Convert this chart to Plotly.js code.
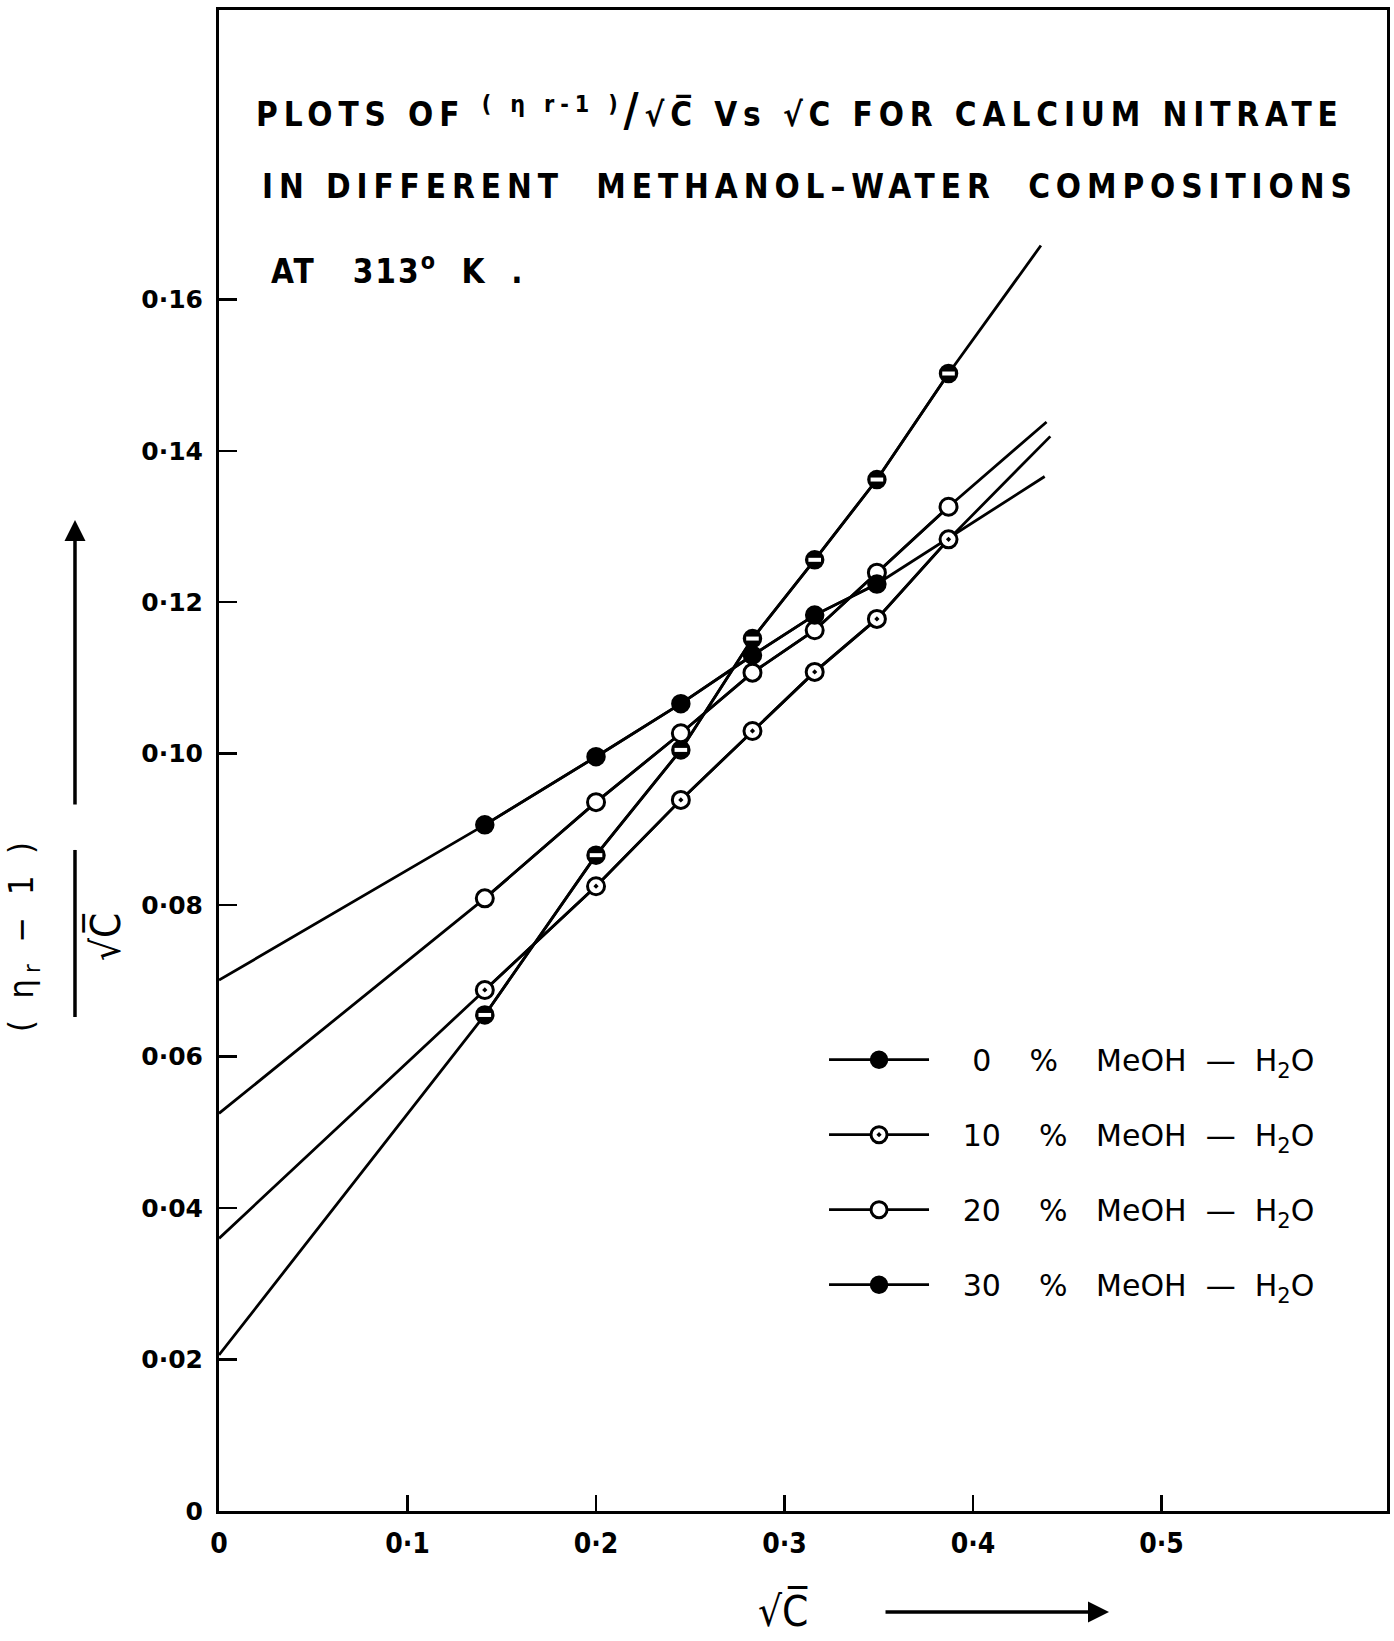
<!DOCTYPE html>
<html>
<head>
<meta charset="utf-8">
<script src="https://cdn.plot.ly/plotly-3.0.1.min.js"></script>
<style>html,body{margin:0;padding:0;background:#fff;}</style>
</head>
<body>
<div id="chart" style="width:1394px;height:1641px;"></div>
<script>
// ---- data ----
const sqrtC   = [0.141, 0.200, 0.245, 0.283, 0.316, 0.349, 0.387];
const meoh0   = [0.0655, 0.0866, 0.1005, 0.1152, 0.1256, 0.1362, 0.1502];
const meoh10  = [0.0688, 0.0825, 0.0939, 0.1030, 0.1108, 0.1178, 0.1283];
const meoh20  = [0.0809, 0.0936, 0.1027, 0.1107, 0.1163, 0.1239, 0.1326];
const meoh30  = [0.0906, 0.0996, 0.1066, 0.1130, 0.1183, 0.1224];
// extrapolated straight lines: value at sqrt(C)=0 and the far end of each drawn line
const lineStartY = [0.0206, 0.0360, 0.0525, 0.0701];
const lineEndX   = [0.436, 0.441, 0.439, 0.438];
const lineEndY   = [0.1671, 0.1419, 0.1438, 0.1366];
const NB = '\u00a0';
const seriesNames = ['0', '10', '20', '30'].map(p =>
  NB.repeat(p.length === 1 ? 4 : 3) + p + NB.repeat(4) + '%' + NB.repeat(p.length === 1 ? 4 : 3) +
  'MeOH' + NB.repeat(2) + '—' + NB.repeat(2) + 'H<sub>2</sub>O');
const xTickVals = [0, 0.1, 0.2, 0.3, 0.4, 0.5];
const xTickText = ['0', '0·1', '0·2', '0·3', '0·4', '0·5'];
const yTickVals = [0, 0.02, 0.04, 0.06, 0.08, 0.10, 0.12, 0.14, 0.16];
const yTickText = ['0', '0·02', '0·04', '0·06', '0·08', '0·10', '0·12', '0·14', '0·16'];

// ---- build traces ----
const seriesY = [meoh0, meoh10, meoh20, meoh30];
const markerStyles = [
  {symbol: 'circle', size: 17, color: 'black', line: {color: 'black', width: 2.5}},
  {symbol: 'circle-dot', size: 17, color: 'white', line: {color: 'black', width: 3}},
  {symbol: 'circle', size: 17, color: 'white', line: {color: 'black', width: 3}},
  {symbol: 'circle', size: 17, color: 'black', line: {color: 'black', width: 2.5}}
];
const LW = 2.8;
const lineTraces = [], markerTraces = [];
seriesY.forEach((ys, i) => {
  const xs = sqrtC.slice(0, ys.length);
  lineTraces.push({
    x: [0].concat(xs, [lineEndX[i]]),
    y: [lineStartY[i]].concat(ys, [lineEndY[i]]),
    mode: 'lines', line: {color: 'black', width: LW},
    showlegend: false, hoverinfo: 'skip'
  });
  markerTraces.push({
    x: xs, y: ys, mode: 'lines+markers', name: seriesNames[i],
    legendgroup: 'g' + i,
    line: {color: 'black', width: LW}, marker: markerStyles[i]
  });
});
// white slit for the half-filled 0 % markers
const slitTrace = {
  x: sqrtC.slice(0, meoh0.length), y: meoh0, mode: 'markers', showlegend: false, hoverinfo: 'skip',
  marker: {symbol: 'line-ew', size: 9, color: 'white', line: {color: 'white', width: 4}}
};

const data = lineTraces.concat(markerTraces, [slitTrace]);

const FONT = 'DejaVu Sans, sans-serif';
const TFONT = 'DejaVu Sans Condensed, DejaVu Sans, sans-serif';
const spaced = (s, px) => '<span style="letter-spacing:' + px + 'px">' + s + '</span>';

const layout = {
  width: 1394, height: 1641,
  margin: {l: 219, r: 7, t: 10, b: 130},
  paper_bgcolor: 'white', plot_bgcolor: 'white',
  font: {family: FONT, color: 'black', size: 24},
  showlegend: true,
  legend: {
    x: 0.518, y: 0.318, xanchor: 'left', yanchor: 'top',
    font: {family: FONT, size: 30, color: 'black'},
    bgcolor: 'rgba(0,0,0,0)', borderwidth: 0,
    tracegroupgap: 33, itemwidth: 100, traceorder: 'grouped'
  },
  xaxis: {
    range: [0, 0.6196], showgrid: false, zeroline: false,
    showline: true, mirror: true, linewidth: 3, linecolor: 'black',
    ticks: 'inside', ticklen: 16, tickwidth: 2.5, tickcolor: 'black',
    tickvals: xTickVals, ticktext: xTickText,
    tickfont: {family: TFONT, size: 28, weight: 'bold'},
    ticklabelstandoff: 5
  },
  yaxis: {
    range: [0, 0.1982], showgrid: false, zeroline: false,
    showline: true, mirror: true, linewidth: 3, linecolor: 'black',
    ticks: 'inside', ticklen: 18, tickwidth: 2.5, tickcolor: 'black',
    tickvals: yTickVals, ticktext: yTickText,
    tickfont: {family: FONT, size: 25, weight: 'bold'},
    ticklabelstandoff: 8
  },
  annotations: [
    {xref: 'paper', yref: 'paper', x: 0.030, y: 0.9334, xanchor: 'left', yanchor: 'middle', showarrow: false,
     font: {family: TFONT, size: 33, weight: 'bold'},
     text: spaced('PLOTS OF <sup>( η r-1 )</sup><span style="font-size:46px">/</span>√C̅ Vs √C FOR CALCIUM NITRATE', 5.9)},
    {xref: 'paper', yref: 'paper', x: 0.0351, y: 0.8827, xanchor: 'left', yanchor: 'middle', showarrow: false,
     font: {family: TFONT, size: 33, weight: 'bold'},
     text: spaced('IN DIFFERENT  METHANOL–WATER  COMPOSITIONS', 5.9)},
    {xref: 'paper', yref: 'paper', x: 0.0428, y: 0.8274, xanchor: 'left', yanchor: 'middle', showarrow: false,
     font: {family: TFONT, size: 33, weight: 'bold'},
     text: spaced('AT' + NB.repeat(3) + '313<sup>o</sup>' + NB.repeat(2) + 'K' + NB.repeat(2) + '.', 2)},
    // y-axis title
    {xref: 'paper', yref: 'paper', x: -0.1678, y: 0.3844, xanchor: 'center', yanchor: 'middle', showarrow: false,
     textangle: -90, font: {family: TFONT, size: 34},
     text: spaced('(' + NB + 'η<sub>r</sub>' + NB + '−' + NB + '1' + NB + ')', 6)},
    {xref: 'paper', yref: 'paper', x: -0.0976, y: 0.3824, xanchor: 'center', yanchor: 'middle', showarrow: false,
     textangle: -90, font: {family: TFONT, size: 40},
     text: '√C̅'},
    {xref: 'paper', yref: 'paper', x: -0.1233, y: 0.6602, showarrow: true, text: '',
     ax: 0, ay: 286, arrowhead: 2, arrowsize: 1.2, arrowwidth: 3.5, arrowcolor: 'black'},
    // x-axis title
    {xref: 'paper', yref: 'paper', x: 0.483, y: -0.0665, xanchor: 'center', yanchor: 'middle', showarrow: false,
     font: {family: TFONT, size: 42}, text: '√C̅'},
    {xref: 'paper', yref: 'paper', x: 0.762, y: -0.0673, showarrow: true, text: '',
     ax: -225, ay: 0, arrowhead: 2, arrowsize: 1.2, arrowwidth: 3.5, arrowcolor: 'black'}
  ],
  shapes: [
    {type: 'line', xref: 'paper', yref: 'paper', x0: -0.1233, x1: -0.1233, y0: 0.4404, y1: 0.3291,
     line: {color: 'black', width: 3.5}}
  ]
};

Plotly.newPlot('chart', data, layout, {displayModeBar: false, staticPlot: true});
</script>
</body>
</html>
